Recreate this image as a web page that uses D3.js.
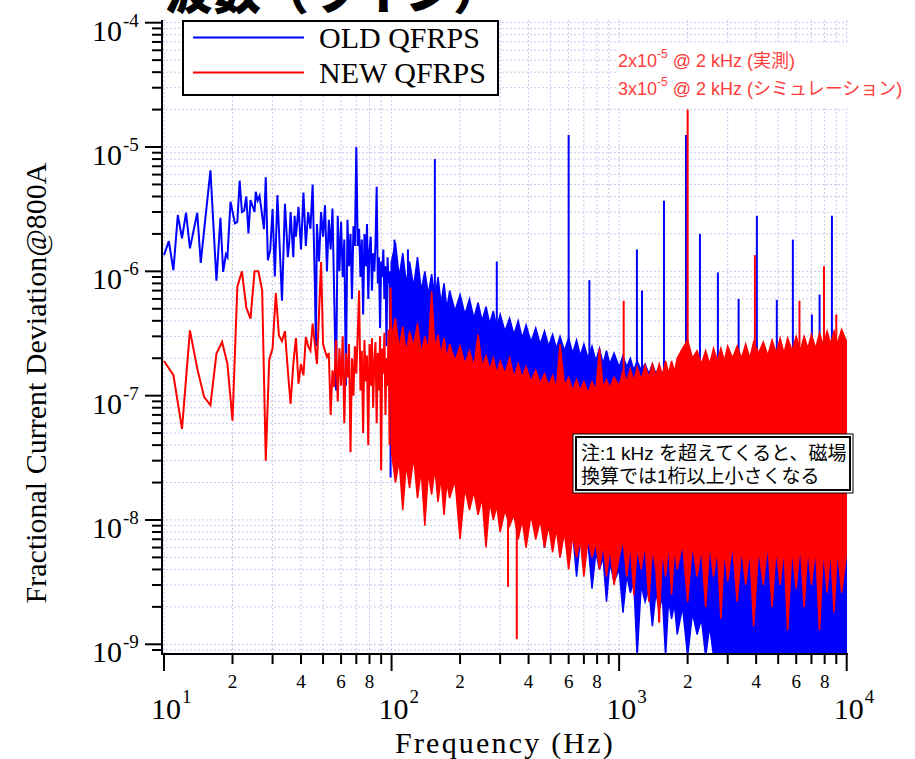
<!DOCTYPE html>
<html><head><meta charset="utf-8">
<script src="https://cdn.jsdelivr.net/npm/d3@7"></script>
<style>body{margin:0;background:#fff}</style>
</head><body>
<svg id="c" width="915" height="759" xmlns="http://www.w3.org/2000/svg"></svg>
<script>
// ---------------- data ----------------
const xMajorTicks = [10, 100, 1000, 10000];
const xMajorExp = ["1", "2", "3", "4"];
const yMajorTicks = [1e-4, 1e-5, 1e-6, 1e-7, 1e-8, 1e-9];
const yMajorExp = ["-4", "-5", "-6", "-7", "-8", "-9"];
const minorMultipliers = [2, 3, 4, 5, 6, 7, 8, 9];
const xMinorLabels = ["2", "4", "6", "8"];

const seriesNames = ["OLD QFRPS", "NEW QFRPS"];

// OLD QFRPS, resolved low-frequency part [Hz, value]
const oldLow = [[10,1.35e-6],[10.5,1.75e-6],[11,1.02e-6],[11.5,2.84e-6],[12,1.84e-6],[12.5,2.96e-6],[13,1.53e-6],[14,2.96e-6],[14.5,1.17e-6],[15.3,3.0e-6],[16,6.5e-6],[17,8.4e-7],[17.7,2.7e-6],[18.2,9.9e-7],[18.7,1.37e-6],[19,1.3e-6],[19.6,3.63e-6],[20.5,2.43e-6],[21,2.5e-6],[21.5,5.36e-6],[22,3.0e-6],[22.5,3.08e-6],[23,4.0e-6],[23.5,2.02e-6],[24,3.75e-6],[25,3.0e-6],[25.3,4.37e-6],[25.8,3.7e-6],[26.3,4.04e-6],[27.5,2.19e-6],[28,5.7e-6],[28.6,1.23e-6],[29.3,1.48e-6],[30,3.17e-6],[30.7,9.1e-7],[31.5,4.1e-6],
[32,2.15e-6],[33,5.8e-7],[34,3.5e-6],[34.5,2.2e-6],[35,1.3e-6],[35.5,1.7e-6],[36,3.0e-6],[37,1.3e-6],[37.5,2.8e-6],[38,1.9e-6],[39,3.3e-6],[40,1.5e-6],[41,4.3e-6],[42,1.6e-6],[43,3.0e-6],[44,2.2e-6],[45,5.0e-6],[46,8.0e-7],[46.5,2.5e-7],[47,2.4e-6],[48,1.2e-6],[49,3.0e-6],[50,1.9e-6],[51,3.4e-6],[52,1.0e-6],[53,2.6e-6],[54,1.5e-6],[55,3.2e-6],[56,6.0e-7],[57,1.1e-7],[58,2.8e-6],[59,1.0e-6],[60,2.5e-6],[61,9e-7],[62,1.8e-6],[63,1.2e-7],[64,2.6e-6],[65,1.1e-6],[66,2.0e-6],[67,6e-7],[68,2.3e-6],[69,1.6e-6],[70,1.0e-5],[71,1.6e-6],[72,2.2e-6],[73,9e-7],[74,1.8e-6],[75,4.5e-7],[76,2.0e-6],[77,1.1e-6],[78,2.4e-6],[79,6e-7],[80,1.5e-6],[81,1.9e-6],[82,7e-7],[83,1.4e-6],[84,1.0e-6],[85,1.7e-6],[86,4.8e-6],[87,8e-7],[88,1.3e-6],[89,3.5e-7],[90,1.2e-6],[91,9e-7],[92,1.5e-6],[93,6e-7],[94,1.1e-6],[95,2.5e-7],[96,1.3e-6],[97,8e-7],[98,1.0e-6],[99,6e-8],[100,1.2e-6]];

// NEW QFRPS, resolved low-frequency part [Hz, value]
const newLow = [[10,1.9e-7],[11,1.46e-7],[12,5.4e-8],[13,3.35e-7],[14,1.65e-7],[15,9.8e-8],[16,8.4e-8],[17,2.18e-7],[18,2.7e-7],[19,1.8e-7],[20,6.3e-8],[21,7.5e-7],[22,1.0e-6],[23,5.1e-7],[24,4.16e-7],[25,1.0e-6],[26,1.0e-6],[27,7.0e-7],[28,3.0e-8],[29,1.95e-7],[30,2.4e-7],[31,6.7e-7],[32,3.05e-7],[33,2.75e-7],[34,3.3e-7],[35,1.6e-7],[36,8.6e-8],[37,1.8e-7],[38,2.9e-7],[39,1.25e-7],[40,1.8e-7],[41,1.46e-7],[42,2.96e-7],[43,2.5e-7],[44,2.3e-7],[45,3.8e-7],[46,2.6e-7],[47,1.8e-7],[48,4.57e-7],[49,1.19e-6],[50,2.6e-7],[51,2.3e-7],[52,2.05e-7],[53,2.2e-7],[54,7e-8],[55,1.6e-7],[56,1.17e-7],
[57,2.8e-7],[58,9e-8],[59,2.4e-7],[60,1.2e-7],[61,3.0e-7],[62,6e-8],[63,2.2e-7],[64,1.4e-7],[65,2.6e-7],[66,3.5e-8],[67,2.0e-7],[68,1.0e-7],[69,2.5e-7],[70,1.5e-7],[71,3.1e-7],[72,7.0e-7],[73,1.1e-7],[74,2.3e-7],[75,5e-8],[76,2.8e-7],[77,1.3e-7],[78,2.1e-7],[79,4e-8],[80,2.6e-7],[81,1.2e-7],[82,2.9e-7],[83,8e-8],[84,1.9e-7],[85,2.7e-7],[86,6e-8],[87,2.2e-7],[88,1.1e-7],[89,3.0e-7],[90,2.5e-8],[91,2.4e-7],[92,1.5e-7],[93,3.2e-7],[94,7e-8],[95,2.0e-7],[96,1.2e-7],[97,3.4e-7],[98,4e-8],[99,7.4e-7],[100,1.5e-7]];

// dense high-frequency part, upper and lower edge of the unresolved band [Hz, upper, lower]
const oldBand = [[100,1.2e-6,9e-8],[104,1.7e-6,4e-8],[108,9e-7,8e-8],[112,1.4e-6,3e-8],[116,8e-7,7e-8],[120,1.2e-6,4.5e-8],[125,7.5e-7,6.5e-8],[130,1.3e-6,2.8e-8],[135,7e-7,6e-8],[140,1.0e-6,3.5e-8],[145,6.5e-7,5.5e-8],[150,9.5e-7,2.5e-8],[155,6e-7,5e-8],[160,9e-7,3e-8],[165,5.5e-7,4.5e-8],[170,8e-7,2.2e-8],[175,5e-7,4e-8],[180,7e-7,2.8e-8],[190,4.8e-7,3.8e-8],[200,6.5e-7,1.8e-8],[210,4.5e-7,3.4e-8],[220,6e-7,2.2e-8],[230,4.2e-7,3e-8],[240,5.6e-7,1.5e-8],[250,4e-7,2.8e-8],[260,5.2e-7,1.9e-8],[270,3.8e-7,2.5e-8],[280,4.8e-7,1.2e-8],[290,3.5e-7,2.3e-8],[300,4.5e-7,1.6e-8],[315,3.3e-7,2.1e-8],[330,4.2e-7,1.0e-8],[345,3.1e-7,1.9e-8],[360,4e-7,1.3e-8],[375,2.9e-7,1.7e-8],[390,3.7e-7,8e-9],[410,2.7e-7,1.5e-8],[430,3.5e-7,1.1e-8],[450,2.6e-7,1.3e-8],[470,3.3e-7,6e-9],[490,2.5e-7,1.1e-8],[510,3.1e-7,8e-9],[530,2.4e-7,1e-8],[550,3.0e-7,5e-9],[575,2.3e-7,9e-9],[600,2.9e-7,6e-9],[625,2.2e-7,8e-9],[650,2.8e-7,3.5e-9],[675,2.1e-7,7e-9],[700,2.6e-7,5e-9],[730,2e-7,6.5e-9],[760,2.5e-7,2.8e-9],[790,1.9e-7,5.5e-9],[820,2.4e-7,4e-9],[850,1.8e-7,5e-9],[880,2.3e-7,2.2e-9],[910,1.8e-7,4.5e-9],[950,2.2e-7,3.2e-9],[1000,1.7e-7,4e-9],[1040,2.1e-7,1.8e-9],[1080,1.7e-7,3.6e-9],[1120,2.0e-7,2.6e-9],[1160,1.6e-7,3.2e-9],[1200,1.9e-7,8e-10],[1250,1.6e-7,3e-9],[1300,1.8e-7,2.2e-9],[1350,1.5e-7,2.8e-9],[1400,1.8e-7,1.4e-9],[1450,1.5e-7,2.6e-9],[1500,1.7e-7,1.9e-9],[1550,1.5e-7,2.4e-9],[1600,1.7e-7,8e-10],[1650,1.4e-7,2.3e-9],[1700,1.6e-7,1.6e-9],[1750,1.4e-7,2.1e-9],[1800,1.6e-7,1.2e-9],[1900,1.4e-7,2.0e-9],[2000,1.6e-7,8e-10],[2100,1.4e-7,1.8e-9],[2200,1.5e-7,1.2e-9],[2300,1.3e-7,1.6e-9],[2400,1.5e-7,8e-10],[2500,1.3e-7,1.4e-9],[2600,1.5e-7,8e-10],[3000,1.3e-7,8e-10],[4000,1.5e-7,8e-10],[5000,1.3e-7,8e-10],[6000,1.5e-7,8e-10],[8000,1.3e-7,8e-10],[10000,1.5e-7,8e-10]];
const newBand = [[100,3.0e-7,3.5e-8],[104,4.2e-7,2.0e-8],[108,2.4e-7,3.0e-8],[112,3.6e-7,1.2e-8],[116,2.2e-7,2.8e-8],[120,3.3e-7,1.8e-8],[125,2.5e-7,3.2e-8],[130,3.8e-7,1.5e-8],[135,2.2e-7,2.5e-8],[140,3.0e-7,9e-9],[145,2.3e-7,2.4e-8],[150,6.9e-7,1.6e-8],[155,2.4e-7,2.6e-8],[160,3.1e-7,1.4e-8],[165,2.1e-7,2.2e-8],[170,2.9e-7,1.1e-8],[175,2.0e-7,2.0e-8],[180,2.6e-7,1.5e-8],[190,1.9e-7,2.1e-8],[200,2.5e-7,7e-9],[210,1.8e-7,1.8e-8],[220,2.3e-7,1.2e-8],[230,1.7e-7,1.7e-8],[240,3.1e-7,1.1e-8],[250,1.7e-7,1.5e-8],[260,2.1e-7,6e-9],[270,1.6e-7,1.4e-8],[280,2.0e-7,1.0e-8],[290,1.5e-7,1.3e-8],[300,1.9e-7,8e-9],[315,1.5e-7,1.2e-8],[330,2.0e-7,9e-9],[345,1.4e-7,1.1e-8],[360,1.8e-7,7e-9],[375,1.4e-7,1.0e-8],[390,1.7e-7,6e-9],[410,1.3e-7,1.1e-8],[430,1.6e-7,7e-9],[450,1.25e-7,1.0e-8],[470,1.5e-7,6e-9],[490,1.2e-7,9e-9],[510,1.45e-7,5.5e-9],[530,1.15e-7,8.5e-9],[550,2.6e-7,5e-9],[575,1.2e-7,8e-9],[600,1.4e-7,4e-9],[625,1.1e-7,7.5e-9],[650,1.35e-7,5e-9],[675,1.1e-7,7e-9],[700,1.3e-7,3.5e-9],[730,1.05e-7,7e-9],[760,1.3e-7,5e-9],[790,1.1e-7,6.5e-9],[820,2.4e-7,4e-9],[850,1.15e-7,6.5e-9],[880,1.35e-7,3.5e-9],[910,1.15e-7,6e-9],[950,1.4e-7,3e-9],[1000,1.2e-7,5e-9],[1040,1.6e-7,7e-9],[1080,1.3e-7,3.5e-9],[1120,1.65e-7,6.5e-9],[1160,1.3e-7,2.5e-9],[1200,1.7e-7,6e-9],[1250,1.35e-7,4e-9],[1300,1.75e-7,6.5e-9],[1350,1.4e-7,2.2e-9],[1400,1.8e-7,6e-9],[1450,1.45e-7,4e-9],[1500,1.8e-7,1.5e-9],[1550,1.45e-7,6e-9],[1600,1.9e-7,3.5e-9],[1650,1.5e-7,6.5e-9],[1700,1.9e-7,2.5e-9],[1750,1.55e-7,6e-9],[1800,2.0e-7,4e-9],[1900,2.4e-7,6.5e-9],[2000,2.8e-7,2.2e-9],[2100,2.0e-7,6.5e-9],[2200,2.3e-7,3.5e-9],[2300,1.8e-7,6e-9],[2400,2.3e-7,2e-9],[2500,1.8e-7,6.5e-9],[2600,2.4e-7,3.5e-9],[2700,1.9e-7,6e-9],[2800,2.4e-7,1.6e-9],[2900,1.9e-7,6e-9],[3000,2.5e-7,3.2e-9],[3150,2.0e-7,6.5e-9],[3300,2.5e-7,2.2e-9],[3450,2.0e-7,6e-9],[3600,2.6e-7,3e-9],[3750,2.0e-7,6e-9],[3900,2.7e-7,1.4e-9],[4100,2.2e-7,6e-9],[4300,2.7e-7,3e-9],[4500,2.1e-7,6.5e-9],[4700,2.8e-7,2e-9],[4900,2.2e-7,6e-9],[5100,2.9e-7,3e-9],[5300,2.2e-7,6e-9],[5500,2.9e-7,1.3e-9],[5750,2.3e-7,6e-9],[6000,3.0e-7,2.8e-9],[6250,2.3e-7,6.5e-9],[6500,3.0e-7,2e-9],[6750,2.4e-7,6e-9],[7000,3.1e-7,3e-9],[7300,2.4e-7,6e-9],[7600,3.2e-7,1.3e-9],[7900,2.5e-7,6e-9],[8200,3.3e-7,2.6e-9],[8500,2.6e-7,6e-9],[8800,3.3e-7,1.8e-9],[9100,2.6e-7,6e-9],[9500,3.4e-7,2.6e-9],[10000,2.7e-7,5.5e-9]];

// isolated lines standing out of the band [Hz, peak] and dips [Hz, minimum]
const oldSpikes = [[103,1.8e-6],[118,1.5e-6],[155,8e-6],[290,1.2e-6],[600,1.25e-5],[740,8.5e-7],[1197,1.5e-6],[1260,7e-7],[1574,3.7e-6],[1967,1.25e-5],[2265,2e-6],[2716,9.8e-7],[3350,6e-7],[4030,2.8e-6],[4930,5.9e-7],[5800,1.8e-6],[7030,4.5e-7],[7600,6.5e-7],[8610,2.8e-6]];
const newSpikes = [[2000,2e-5],[3950,1.35e-6],[1047,5.8e-7],[6200,5.8e-7],[7950,1.1e-6],[9000,4.5e-7]];
const newDips = [[325,2.9e-9],[355,1.1e-9],[1500,1.5e-9]];
const oldDips = [[99,2.2e-8]];

const noteLines = ["注:1 kHz を超えてくると、磁場", "換算では1桁以上小さくなる"];
const annoLines = [["2x10", "-5", " @ 2 kHz (実測)"], ["3x10", "-5", " @ 2 kHz (シミュレーション)"]];

// ---------------- drawing ----------------
const svg = d3.select("#c");
const L = 162, R = 847, T = 20, B = 654;
const x = d3.scaleLog().domain([10, 1e4]).range([164, 846.7]);
const y = d3.scaleLog().domain([1e-9, 1e-4]).range([644.3, 22.7]);
const blue = "#0000ff", red = "#ff0000";
const serif = "'Liberation Serif','Times New Roman',serif";
const sans = "'Liberation Sans','Noto Sans CJK JP',sans-serif";

const xTicks = [];
xMajorTicks.forEach((d, i) => { if (i < xMajorTicks.length - 1) minorMultipliers.forEach(m => xTicks.push(d * m)); });
const yTicks = [];
[1e-10, 1e-9, 1e-8, 1e-7, 1e-6, 1e-5].forEach(d => minorMultipliers.forEach(m => { const v = d * m; if (y(v) <= B && y(v) >= T) yTicks.push(v); }));

// grid
const grid = svg.append("g").attr("stroke", "#c8c8f4").attr("stroke-width", 1).attr("stroke-dasharray", "2,2");
xTicks.concat(xMajorTicks).forEach(v => grid.append("line").attr("x1", x(v)).attr("x2", x(v)).attr("y1", T).attr("y2", B));
yTicks.concat(yMajorTicks).forEach(v => grid.append("line").attr("x1", L).attr("x2", R).attr("y1", y(v)).attr("y2", y(v)));

svg.append("clipPath").attr("id", "clip").append("rect").attr("x", L).attr("y", T).attr("width", R - L).attr("height", B - T);
const plot = svg.append("g").attr("clip-path", "url(#clip)");

const line = d3.line().x(d => x(d[0])).y(d => y(d[1]));
const area = d3.area().x(d => x(d[0])).y0(d => y(d[2])).y1(d => y(d[1]));

function bandY(band, f, idx) {
  const i = d3.bisector(d => d[0]).left(band, f);
  const a = band[Math.max(0, i - 1)], b = band[Math.min(band.length - 1, i)];
  if (a === b) return y(a[idx]);
  const t = (x(f) - x(a[0])) / (x(b[0]) - x(a[0]));
  return y(a[idx]) * (1 - t) + y(b[idx]) * t;
}

function drawSeries(low, band, spikes, dips, color) {
  const g = plot.append("g");
  g.append("path").attr("d", area(band)).attr("fill", color).attr("stroke", color).attr("stroke-width", 1.5).attr("stroke-linejoin", "miter");
  g.append("path").attr("d", line(low)).attr("fill", "none").attr("stroke", color).attr("stroke-width", 2).attr("stroke-linejoin", "miter");
  spikes.forEach(s => g.append("line").attr("x1", x(s[0])).attr("x2", x(s[0])).attr("y1", y(s[1])).attr("y2", bandY(band, s[0], 1) + 6).attr("stroke", color).attr("stroke-width", 2));
  dips.forEach(s => g.append("line").attr("x1", x(s[0])).attr("x2", x(s[0])).attr("y1", y(s[1])).attr("y2", bandY(band, s[0], 2) - 6).attr("stroke", color).attr("stroke-width", 2));
}
drawSeries(oldLow, oldBand, oldSpikes, oldDips, blue);
drawSeries(newLow, newBand, newSpikes, newDips, red);

// axes
const ax = svg.append("g").attr("stroke", "#000");
ax.append("line").attr("x1", L).attr("x2", L).attr("y1", T).attr("y2", B + 1).attr("stroke-width", 2);
ax.append("line").attr("x1", L - 1).attr("x2", R + 1).attr("y1", B).attr("y2", B).attr("stroke-width", 2);
yMajorTicks.forEach(v => ax.append("line").attr("x1", L - 17).attr("x2", L).attr("y1", y(v)).attr("y2", y(v)).attr("stroke-width", 2));
yTicks.forEach(v => ax.append("line").attr("x1", L - 10).attr("x2", L).attr("y1", y(v)).attr("y2", y(v)).attr("stroke-width", 2));
xMajorTicks.forEach(v => ax.append("line").attr("x1", x(v)).attr("x2", x(v)).attr("y1", B).attr("y2", B + 17).attr("stroke-width", 2));
xTicks.forEach(v => ax.append("line").attr("x1", x(v)).attr("x2", x(v)).attr("y1", B).attr("y2", B + 10).attr("stroke-width", 2));

// tick labels
yMajorTicks.forEach((v, i) => {
  svg.append("text").attr("x", 122).attr("y", y(v) + 18).attr("text-anchor", "end").attr("font-family", serif).attr("font-size", 30).text("10");
  svg.append("text").attr("x", 123).attr("y", y(v) + 4).attr("font-family", serif).attr("font-size", 19).text(yMajorExp[i]);
});
xMajorTicks.forEach((v, i) => {
  svg.append("text").attr("x", x(v) + 2).attr("y", 719).attr("text-anchor", "middle").attr("font-family", serif).attr("font-size", 30).text("10");
  svg.append("text").attr("x", x(v) + 18).attr("y", 703).attr("font-family", serif).attr("font-size", 19).text(xMajorExp[i]);
});
xMajorTicks.slice(0, 3).forEach(d => xMinorLabels.forEach(m => {
  svg.append("text").attr("x", x(d * +m)).attr("y", 688).attr("text-anchor", "middle").attr("font-family", serif).attr("font-size", 19).text(m);
}));

// axis titles
svg.append("text").attr("x", 505).attr("y", 752.5).attr("text-anchor", "middle").attr("font-family", serif).attr("font-size", 30).attr("letter-spacing", 2.2).text("Frequency (Hz)");
svg.append("text").attr("transform", "translate(46,383) rotate(-90)").attr("text-anchor", "middle").attr("font-family", serif).attr("font-size", 30).text("Fractional Current Deviation@800A");

// page title, cut off by the top edge as in the original slide
svg.append("text").attr("x", 165).attr("y", 9).attr("font-family", "'Noto Sans CJK JP',sans-serif").attr("font-weight", 900).attr("font-size", 48).text("波数（ライン）");

// legend
const lg = svg.append("g");
lg.append("rect").attr("x", 183).attr("y", 21).attr("width", 315).attr("height", 74).attr("fill", "#fff").attr("stroke", "#000").attr("stroke-width", 2);
[blue, red].forEach((c, i) => {
  lg.append("line").attr("x1", 193).attr("x2", 304).attr("y1", 37.5 + i * 35).attr("y2", 37.5 + i * 35).attr("stroke", c).attr("stroke-width", 2);
  lg.append("text").attr("x", 319).attr("y", 48 + i * 35).attr("font-family", serif).attr("font-size", 30).text(seriesNames[i]);
});

// red annotation
svg.append("rect").attr("x", 616).attr("y", 44).attr("width", 294).attr("height", 63).attr("fill", "#fff");
annoLines.forEach((a, i) => {
  const t = svg.append("text").attr("x", 618).attr("y", 67 + i * 28).attr("font-family", sans).attr("font-size", 18).attr("fill", "#ff3c3c");
  t.append("tspan").text(a[0]);
  t.append("tspan").attr("dy", -9).attr("font-size", 12).text(a[1]);
  t.append("tspan").attr("dy", 9).text(a[2]);
});

// note box
const nb = svg.append("g");
nb.append("rect").attr("x", 573).attr("y", 434).attr("width", 280).attr("height", 59).attr("fill", "#fff").attr("stroke", "#000").attr("stroke-width", 1);
nb.append("rect").attr("x", 576).attr("y", 437).attr("width", 274).attr("height", 53).attr("fill", "#fff").attr("stroke", "#000").attr("stroke-width", 2);
noteLines.forEach((s, i) => nb.append("text").attr("x", 581).attr("y", 460 + i * 23).attr("font-family", sans).attr("font-size", 19).text(s));
</script>
</body></html>
